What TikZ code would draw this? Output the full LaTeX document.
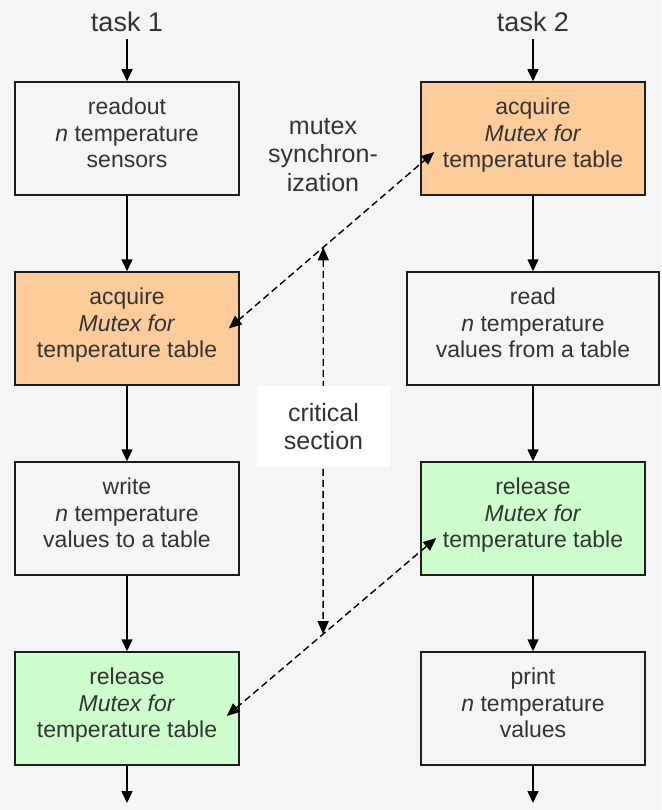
\documentclass[tikz,border=0pt]{standalone}
\usepackage{fontspec}
\setmainfont{Liberation Sans}
\usetikzlibrary{arrows.meta}
\definecolor{bgcol}{HTML}{F5F5F5}
\definecolor{txtcol}{HTML}{333333}
\definecolor{linecol}{HTML}{1E1E1E}
\definecolor{acqcol}{HTML}{FFCC99}
\definecolor{relcol}{HTML}{CCFFCC}
\tikzset{
  box/.style={draw=linecol, line width=1.5pt, minimum width=224pt, minimum height=113pt,
    align=center, text=txtcol, font=\fontsize{23}{26.5}\selectfont, text depth=11pt},
  acq/.style={box, fill=acqcol},
  rel/.style={box, fill=relcol},
  task/.style={text=txtcol, font=\fontsize{27}{30}\selectfont, outer sep=4pt},
  note/.style={text=txtcol, align=center, font=\fontsize{25}{28.5}\selectfont},
  flow/.style={black, line width=1.5pt, -{Triangle[length=12pt,width=11pt]}},
  sync/.style={black, line width=1.4pt, dash pattern=on 7pt off 4pt,
    {Triangle[length=13pt,width=11pt]}-{Triangle[length=13pt,width=11pt]}}
}
\begin{document}
\begin{tikzpicture}[x=1pt,y=-1pt]
  \fill[bgcol] (0,0) rectangle (661,810);
  % task 1
  \node[task] (t1) at (127,22) {task 1};
  \node[box] (a1) at (127,138.5) {readout\\ \textit{n} temperature\\ sensors};
  \node[acq] (a2) at (127,328.5) {acquire\\ \textit{Mutex for}\\ temperature table};
  \node[box] (a3) at (127,518.5) {write\\ \textit{n} temperature\\ values to a table};
  \node[rel] (a4) at (127,708.5) {release\\ \textit{Mutex for}\\ temperature table};
  \coordinate (e1) at (127,803);
  \draw[flow] (t1) -- (a1);
  \draw[flow] (a1) -- (a2);
  \draw[flow] (a2) -- (a3);
  \draw[flow] (a3) -- (a4);
  \draw[flow] (a4) -- (e1);
  % task 2
  \node[task] (t2) at (533,22) {task 2};
  \node[acq] (b1) at (533,138.5) {acquire\\ \textit{Mutex for}\\ temperature table};
  \node[box, minimum width=252pt] (b2) at (533,328.5) {read\\ \textit{n} temperature\\ values from a table};
  \node[rel] (b3) at (533,518.5) {release\\ \textit{Mutex for}\\ temperature table};
  \node[box] (b4) at (533,708.5) {print\\ \textit{n} temperature\\ values};
  \coordinate (e2) at (533,803);
  \draw[flow] (t2) -- (b1);
  \draw[flow] (b1) -- (b2);
  \draw[flow] (b2) -- (b3);
  \draw[flow] (b3) -- (b4);
  \draw[flow] (b4) -- (e2);
  % mutex
  \node[note] (mx) at (323,155) {mutex\\ synchron-\\ ization};
  \draw[sync] ([xshift=-11pt]a2.east) -- coordinate[pos=0.46] (s1) ([xshift=14pt,yshift=-13.5pt]b1.west);
  \draw[sync] ([xshift=-13pt,yshift=-7.5pt]a4.east) -- coordinate[pos=0.46] (s2) ([xshift=16pt,yshift=-19.5pt]b3.west);
  \draw[sync] (s1) -- (s2);
  \node[note, fill=white, minimum width=133pt, minimum height=81pt] (cs) at (323.5,426.5) {critical\\ section};
\end{tikzpicture}
\end{document}
